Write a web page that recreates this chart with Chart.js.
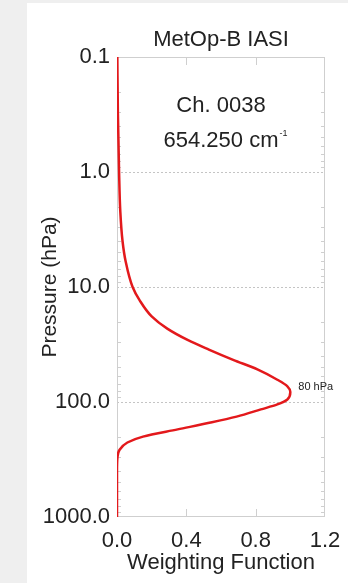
<!DOCTYPE html>
<html>
<head>
<meta charset="utf-8">
<script src="https://cdn.jsdelivr.net/npm/chart.js@4"></script>
<style>
  html, body { margin: 0; padding: 0; }
  body { width: 348px; height: 583px; background: #efefef; position: relative; overflow: hidden; }
  #panel { position: absolute; left: 27px; top: 3px; width: 321px; height: 580px; background: #fff; }
</style>
</head>
<body>
<div id="panel"><canvas id="wf-chart"></canvas></div>
<script>
// weighting function profile
const pressure = [0.1, 0.3, 1, 2.2, 4, 6, 10, 13, 18, 23, 29, 35, 43, 52, 64, 73, 82, 95, 105, 116, 134, 151, 173, 200, 225, 260, 300, 400, 1000];
const weight   = [0.002, 0.005, 0.012, 0.019, 0.032, 0.05, 0.09, 0.13, 0.2, 0.29, 0.41, 0.53, 0.67, 0.81, 0.925, 0.983, 1.0, 0.983, 0.925, 0.83, 0.69, 0.54, 0.35, 0.15, 0.06, 0.015, 0.003, 0, 0];
const yTicks = [0.1, 1, 10, 100, 1000];
const xTicks = [0, 0.4, 0.8, 1.2];
const peakLabel = "80 hPa";
const peakPressure = 80;

const FONT = "'Liberation Sans', Arial, Helvetica, sans-serif";
const TXT = "#222";

const decor = {
  id: "decor",
  beforeDatasetsDraw(chart) {
    const { ctx, chartArea: a, scales } = chart;
    ctx.save();
    ctx.strokeStyle = "#cfcfcf";
    ctx.lineWidth = 1;
    ctx.strokeRect(a.left + 0.5, a.top + 0.5, a.right - a.left - 1, a.bottom - a.top - 1);
    // minor ticks on both sides
    ctx.beginPath();
    for (let d = 0.1; d < 1000; d *= 10) {
      for (let k = 2; k <= 9; k++) {
        const y = Math.round(scales.y.getPixelForValue(d * k)) + 0.5;
        ctx.moveTo(a.left, y); ctx.lineTo(a.left + 4, y);
        ctx.moveTo(a.right, y); ctx.lineTo(a.right - 4, y);
      }
    }
    // major x ticks, top and bottom
    [0.4, 0.8].forEach(v => {
      const x = Math.round(scales.x.getPixelForValue(v)) + 0.5;
      ctx.moveTo(x, a.top); ctx.lineTo(x, a.top + 8);
      ctx.moveTo(x, a.bottom); ctx.lineTo(x, a.bottom - 8);
    });
    ctx.stroke();
    ctx.restore();
  },
  afterDatasetsDraw(chart) {
    const { ctx, chartArea: a, scales } = chart;
    const cx = (a.left + a.right) / 2;
    ctx.save();
    ctx.fillStyle = TXT;
    ctx.textAlign = "center";
    ctx.textBaseline = "middle";
    ctx.font = "22px " + FONT;
    ctx.fillText("MetOp-B IASI", cx, 37);
    ctx.fillText("Ch. 0038", cx, 103);
    const main = "654.250 cm";
    ctx.fillText(main, cx, 138);
    const w = ctx.measureText(main).width;
    ctx.textAlign = "left";
    ctx.font = "9px " + FONT;
    ctx.fillText("-1", cx + w / 2 + 1, 131);
    ctx.font = "11px " + FONT;
    ctx.fillText(peakLabel, scales.x.getPixelForValue(1.0) + 8, scales.y.getPixelForValue(peakPressure) - 4);
    ctx.restore();
  }
};

const ctx = document.getElementById("wf-chart");
new Chart(ctx, {
  type: "scatter",
  data: {
    datasets: [{
      data: pressure.map((p, i) => ({ x: weight[i], y: p })),
      showLine: true,
      borderColor: "#e3191c",
      borderWidth: 2.5,
      pointRadius: 0,
      cubicInterpolationMode: "monotone",
      fill: false
    }]
  },
  options: {
    indexAxis: "y",
    responsive: true,
    maintainAspectRatio: false,
    animation: false,
    layout: { padding: { top: 54, right: 23, left: 0, bottom: 0 } },
    plugins: { legend: { display: false }, tooltip: { enabled: false } },
    scales: {
      x: {
        type: "linear",
        min: 0,
        max: 1.2,
        afterFit: s => { s.height = 66; },
        afterBuildTicks: s => { s.ticks = xTicks.map(v => ({ value: v })); },
        grid: { display: false },
        border: { display: false },
        ticks: {
          padding: 3,
          color: TXT,
          font: { family: FONT, size: 22 },
          maxRotation: 0,
          callback: v => Number(v).toFixed(1)
        },
        title: {
          display: true,
          text: "Weighting Function",
          color: TXT,
          font: { family: FONT, size: 22 },
          padding: { top: 0, bottom: 7 }
        }
      },
      y: {
        type: "logarithmic",
        reverse: true,
        min: 0.1,
        max: 1000,
        afterFit: s => { s.width = 90; },
        afterBuildTicks: s => { s.ticks = yTicks.map(v => ({ value: v })); },
        grid: {
          drawTicks: false,
          lineWidth: 1,
          color: c => (c.tick && (c.tick.value === 0.1 || c.tick.value === 1000)) ? "rgba(0,0,0,0)" : "#c4c4c4"
        },
        border: { display: false, dash: [2, 2] },
        ticks: {
          padding: 7,
          color: TXT,
          font: { family: FONT, size: 22 },
          callback: v => Number(v).toFixed(1)
        },
        title: {
          display: true,
          text: "Pressure (hPa)",
          color: TXT,
          font: { family: FONT, size: 21 },
          padding: { top: 11, bottom: 0 }
        }
      }
    }
  },
  plugins: [decor]
});
</script>
</body>
</html>
